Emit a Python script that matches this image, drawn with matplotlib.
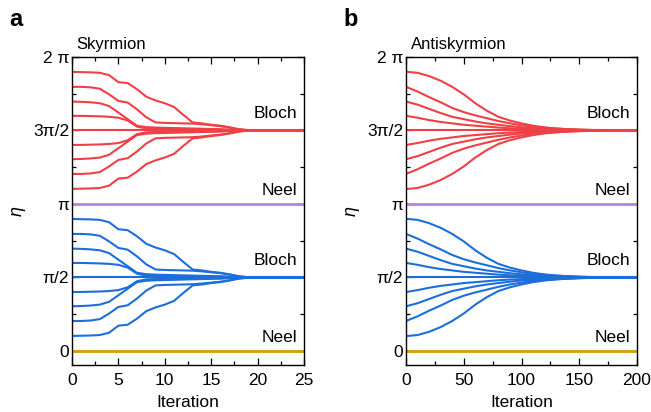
import numpy as np
import matplotlib
matplotlib.use("Agg")
import matplotlib.pyplot as plt
from matplotlib.ticker import MultipleLocator

plt.rcParams["font.family"] = ["Liberation Sans", "DejaVu Sans"]

# ── Data ───────────────────────────────────────────────────────────────────
# deviation of eta from the Bloch value (rad), curves k = 1..4 above it;
# the curves below it are the mirror images (see picture)
sky_iter = np.arange(0, 26)
sky_dev = [
    [0.31, 0.31, 0.305, 0.30, 0.29, 0.27, 0.21, 0.08, 0.04, 0.035, 0.032, 0.03,
     0.028, 0.026, 0.024, 0.02, 0.016, 0.01, 0.004, 0.0, 0, 0, 0, 0, 0, 0],
    [0.616, 0.61, 0.60, 0.58, 0.52, 0.38, 0.24, 0.10, 0.07, 0.06, 0.055, 0.05,
     0.045, 0.04, 0.035, 0.03, 0.025, 0.015, 0.005, 0.0, 0, 0, 0, 0, 0, 0],
    [0.93, 0.93, 0.92, 0.89, 0.77, 0.63, 0.594, 0.45, 0.28, 0.17, 0.16, 0.155,
     0.15, 0.145, 0.13, 0.11, 0.09, 0.06, 0.025, 0.005, 0, 0, 0, 0, 0, 0],
    [1.25, 1.245, 1.24, 1.23, 1.18, 1.03, 1.01, 0.88, 0.72, 0.64, 0.58, 0.50,
     0.33, 0.17, 0.15, 0.12, 0.10, 0.065, 0.02, 0.005, 0, 0, 0, 0, 0, 0],
]

anti_iter = np.arange(0, 201, 10)
anti_dev = [
    [0.311, 0.27, 0.22, 0.18, 0.15, 0.12, 0.10, 0.08, 0.06, 0.045, 0.035,
     0.025, 0.018, 0.013, 0.009, 0.006, 0.004, 0.002, 0.001, 0.0, 0.0],
    [0.616, 0.55, 0.46, 0.37, 0.29, 0.24, 0.19, 0.15, 0.12, 0.09, 0.065,
     0.05, 0.035, 0.025, 0.017, 0.01, 0.006, 0.003, 0.001, 0.0, 0.0],
    [0.93, 0.83, 0.71, 0.60, 0.48, 0.39, 0.32, 0.26, 0.20, 0.15, 0.11,
     0.08, 0.055, 0.04, 0.025, 0.015, 0.01, 0.005, 0.002, 0.0, 0.0],
    [1.253, 1.23, 1.16, 1.06, 0.93, 0.77, 0.58, 0.42, 0.29, 0.21, 0.15,
     0.10, 0.065, 0.04, 0.025, 0.015, 0.008, 0.004, 0.002, 0.0, 0.0],
]

bloch_red = 3 * np.pi / 2
bloch_blue = np.pi / 2
neel_purple = np.pi
neel_gold = 0.0

yticks = [0, np.pi / 2, np.pi, 3 * np.pi / 2, 2 * np.pi]
ytick_labels = ["0", "π/2", "π", "3π/2", "2 π"]

RED = "#EF4046"
BLUE = "#1C6FDA"
PURPLE = "#B384E0"
GOLD = "#D49F00"


def draw_panel(ax, x, devs, xmax, xmajor, xminor, title, letter):
    lw = 1.5
    for center, col in [(bloch_red, RED), (bloch_blue, BLUE)]:
        ax.plot(x, np.full(len(x), center), color=col, lw=lw)
        for d in devs:
            d = np.asarray(d)
            ax.plot(x, center + d, color=col, lw=lw)
            ax.plot(x, center - d, color=col, lw=lw)
    ax.plot([0, xmax], [neel_purple] * 2, color=PURPLE, lw=2)
    ax.plot([0, xmax], [neel_gold] * 2, color=GOLD, lw=2)

    ax.set_xlim(0, xmax)
    ax.set_ylim(-0.3, 2 * np.pi)
    ax.xaxis.set_major_locator(MultipleLocator(xmajor))
    ax.xaxis.set_minor_locator(MultipleLocator(xminor))
    ax.set_yticks(yticks)
    ax.set_yticklabels(ytick_labels)
    ax.yaxis.set_minor_locator(MultipleLocator(np.pi / 4))
    ax.tick_params(which="both", direction="in", top=True, right=True,
                   labelsize=12.5, width=0.9)
    ax.tick_params(which="major", length=5)
    ax.tick_params(axis="x", which="major", pad=6)
    ax.tick_params(axis="y", which="major", pad=2)
    ax.tick_params(which="minor", length=3)
    for s in ax.spines.values():
        s.set_linewidth(1.0)

    ax.set_xlabel("Iteration", fontsize=12.5, labelpad=5)
    ax.set_ylabel("η", fontsize=13, style="italic", labelpad=5)
    ax.text(0.02, 1.015, title, transform=ax.transAxes, fontsize=12,
            ha="left", va="bottom")
    ax.text(-0.27, 1.085, letter, transform=ax.transAxes, fontsize=17,
            fontweight="bold", ha="left", va="bottom")

    for yv, lab, off in [(bloch_red, "Bloch", 0.2), (neel_purple, "Neel", 0.12),
                         (bloch_blue, "Bloch", 0.2), (neel_gold, "Neel", 0.12)]:
        ax.text(0.97, yv + off, lab, transform=ax.get_yaxis_transform(),
                fontsize=12.5, ha="right", va="bottom")


fig = plt.figure(figsize=(6.51, 4.12), dpi=100)
ax_a = fig.add_axes([0.1106, 0.114, 0.3564, 0.748])
ax_b = fig.add_axes([0.6237, 0.114, 0.3548, 0.748])

draw_panel(ax_a, sky_iter, sky_dev, 25, 5, 2.5, "Skyrmion", "a")
draw_panel(ax_b, anti_iter, anti_dev, 200, 50, 25, "Antiskyrmion", "b")

fig.savefig("out.png", dpi=100)
